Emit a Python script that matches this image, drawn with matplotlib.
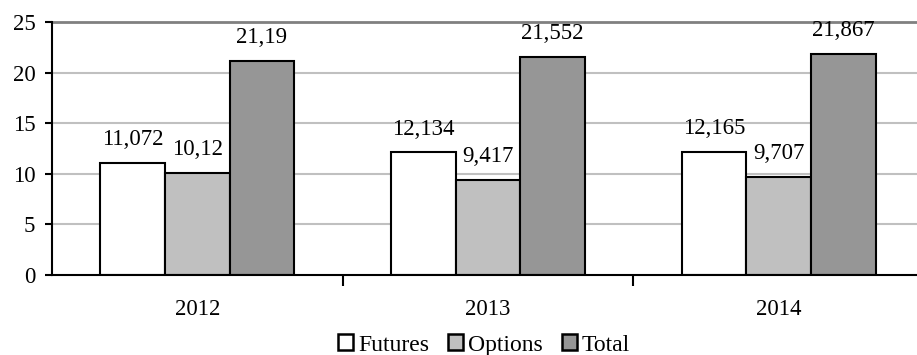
import matplotlib
matplotlib.use("Agg")
import matplotlib.pyplot as plt
import numpy as np

years = ["2012", "2013", "2014"]
series_names = ["Futures", "Options", "Total"]
futures = [11.072, 12.134, 12.165]
options = [10.12, 9.417, 9.707]
total = [21.19, 21.552, 21.867]
futures_labels = ["11,072", "12,134", "12,165"]
options_labels = ["10,12", "9,417", "9,707"]
total_labels = ["21,19", "21,552", "21,867"]
yticks = [0, 5, 10, 15, 20, 25]

plt.rcParams['font.family'] = ['Liberation Serif', 'DejaVu Serif']
FS = 16.5
fig = plt.figure(figsize=(9.17, 3.55), dpi=100)
ax = fig.add_axes([52/917, 1-275/355, 872/917, (275-22)/355])

x = np.arange(len(years))
w = 0.2225
colors = ["#ffffff", "#c0c0c0", "#969696"]
data = [futures, options, total]
labels = [futures_labels, options_labels, total_labels]
for i, (vals, labs, c, name) in enumerate(zip(data, labels, colors, series_names)):
    bars = ax.bar(x + (i - 1) * w, vals, w, color=c, edgecolor="black", linewidth=1.5,
                  label=name, zorder=3)
    for b, lab in zip(bars, labs):
        ax.annotate(lab, (b.get_x() + b.get_width()/2, b.get_height()),
                    xytext=(0, 9), textcoords="offset points", ha="center", va="bottom",
                    fontsize=FS, zorder=4)

ax.set_xlim(-0.5, 2.5)
ax.set_ylim(0, 25)
ax.set_yticks(yticks)
ax.tick_params(axis="y", labelsize=FS, length=5, width=1.5, pad=7)
for yv in yticks[1:-1]:
    ax.axhline(yv, color="#c0c0c0", linewidth=1.5, zorder=1)
ax.axhline(25, color="#808080", linewidth=2, zorder=1, clip_on=False)

ax.set_xticks([0.5, 1.5], minor=False)
ax.set_xticklabels([])
ax.tick_params(axis="x", length=8, width=1.5, direction="out")
ax.set_xticks(x, minor=True)
ax.set_xticklabels(years, minor=True, fontsize=FS)
ax.tick_params(axis="x", which="minor", length=0, pad=17)

for s in ["top", "right"]:
    ax.spines[s].set_visible(False)
ax.spines["left"].set_linewidth(1.5)
ax.spines["bottom"].set_linewidth(1.5)
ax.spines["left"].set_zorder(5)
ax.spines["bottom"].set_zorder(5)

leg = fig.legend(loc="center", bbox_to_anchor=(484/917, 1-345/355), ncol=3, frameon=False,
                 fontsize=17, handlelength=0.65, handleheight=0.65, handletextpad=0.2,
                 columnspacing=0.8, borderpad=0)
for h in leg.legend_handles:
    h.set_linewidth(1.8)

fig.savefig("out.png", dpi=100)
